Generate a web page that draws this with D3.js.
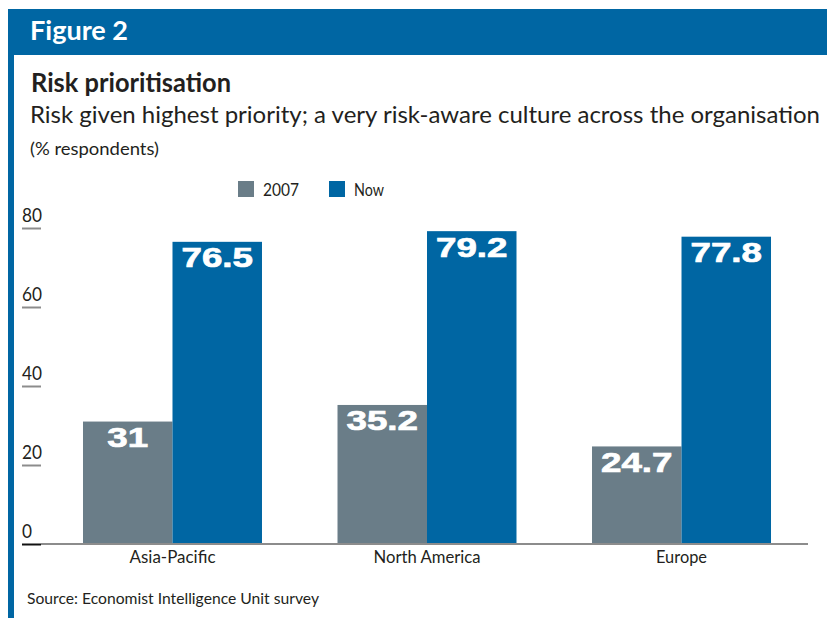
<!DOCTYPE html>
<html>
<head>
<meta charset="utf-8">
<script src="https://cdn.jsdelivr.net/npm/d3@7"></script>
<style>
  html, body { margin: 0; padding: 0; background: #fff; }
  svg { display: block; }
</style>
</head>
<body>
<svg id="chart" width="827" height="618"></svg>
<script>
// Survey results: share of respondents per region
const regions = ["Asia-Pacific", "North America", "Europe"];
const seriesNames = ["2007", "Now"];
const values2007 = [31, 35.2, 24.7];
const valuesNow = [76.5, 79.2, 77.8];
const valueLabels2007 = ["31", "35.2", "24.7"];
const valueLabelsNow = ["76.5", "79.2", "77.8"];
const yTicks = [0, 20, 40, 60, 80];

const colors = { "2007": "#6a7d88", "Now": "#0066a3" };
const brandBlue = "#0066a3";
const ink = "#231f20";
const textFont = "Lato, 'Open Sans', sans-serif";

const svg = d3.select("#chart");

// Header band and left rule
svg.append("rect").attr("x", 8).attr("y", 9).attr("width", 819).attr("height", 46).attr("fill", brandBlue);
svg.append("rect").attr("x", 8).attr("y", 55).attr("width", 6).attr("height", 563).attr("fill", brandBlue);

function fitText(sel, w) {
  return sel.attr("textLength", w).attr("lengthAdjust", "spacingAndGlyphs");
}

fitText(svg.append("text").attr("x", 30).attr("y", 40)
  .attr("font-family", textFont).attr("font-weight", 700).attr("font-size", 27)
  .attr("fill", "#fff").text("Figure 2"), 98);

fitText(svg.append("text").attr("x", 31).attr("y", 92)
  .attr("font-family", textFont).attr("font-weight", 700).attr("font-size", 26)
  .attr("fill", ink).text("Risk prioritisation"), 200);

fitText(svg.append("text").attr("x", 30).attr("y", 123)
  .attr("font-family", textFont).attr("font-size", 24)
  .attr("fill", ink).text("Risk given highest priority; a very risk-aware culture across the organisation"), 790);

fitText(svg.append("text").attr("x", 30).attr("y", 155)
  .attr("font-family", textFont).attr("font-size", 17.5)
  .attr("fill", ink).text("(% respondents)"), 129);

// Scales
const y = d3.scaleLinear().domain([0, 80]).range([544, 228]);
const x0 = d3.scaleBand().domain(regions).range([41, 813]).paddingInner(0.2967).paddingOuter(0.165);
const x1 = d3.scaleBand().domain(seriesNames).range([0, x0.bandwidth()]);

// Legend
const legendX = { "2007": 238, "Now": 329 };
const legendW = { "2007": 36, "Now": 30 };
seriesNames.forEach(s => {
  svg.append("rect").attr("x", legendX[s]).attr("y", 181).attr("width", 16).attr("height", 16).attr("fill", colors[s]);
  fitText(svg.append("text").attr("x", legendX[s] + 25).attr("y", 196)
    .attr("font-family", textFont).attr("font-size", 17.5).attr("fill", ink).text(s), legendW[s]);
});

// Y axis: short underline ticks with labels above
const yAxis = d3.axisRight(y).tickValues(yTicks).tickSize(19).tickPadding(0).tickFormat(d3.format("d"));
const gy = svg.append("g").attr("transform", "translate(22,0)").call(yAxis);
gy.select(".domain").remove();
gy.selectAll(".tick line").attr("stroke", d => d === 0 ? "#111" : "#8c8c8c").attr("stroke-width", 2);
gy.selectAll(".tick text")
  .attr("x", 0).attr("dy", -6.5).attr("text-anchor", "start")
  .attr("font-family", textFont).attr("font-size", 18.5).attr("fill", ink);
gy.selectAll(".tick text").each(function() {
  const t = d3.select(this);
  t.attr("textLength", t.text().length * 10).attr("lengthAdjust", "spacingAndGlyphs");
});

// Bars
const rows = regions.map((r, i) => ({
  region: r,
  items: [
    { key: "2007", value: values2007[i], label: valueLabels2007[i] },
    { key: "Now", value: valuesNow[i], label: valueLabelsNow[i] }
  ]
}));

const groups = svg.append("g").selectAll("g").data(rows).join("g")
  .attr("transform", d => `translate(${x0(d.region)},0)`);

groups.selectAll("rect").data(d => d.items).join("rect")
  .attr("x", d => x1(d.key))
  .attr("y", d => y(d.value))
  .attr("width", x1.bandwidth())
  .attr("height", d => y(0) - y(d.value))
  .attr("fill", d => colors[d.key]);

groups.selectAll("text.val").data(d => d.items).join("text")
  .attr("class", "val")
  .attr("transform", d => `translate(${x1(d.key) + x1.bandwidth() / 2},${y(d.value) + 25.5}) scale(1.36,1)`)
  .attr("text-anchor", "middle")
  .attr("font-family", "'Liberation Sans', Arial, sans-serif")
  .attr("font-weight", 700).attr("font-size", 27)
  .attr("fill", "#fff")
  .attr("stroke", "#fff").attr("stroke-width", 0.7)
  .text(d => d.label);

// Baseline and category axis
svg.append("line").attr("x1", 41).attr("x2", 808).attr("y1", y(0)).attr("y2", y(0))
  .attr("stroke", "#8c8c8c").attr("stroke-width", 2);

const xAxis = d3.axisBottom(x0).tickSize(0).tickPadding(0);
const gx = svg.append("g").attr("transform", `translate(0,${y(0)})`).call(xAxis);
gx.select(".domain").remove();
const catW = { "Asia-Pacific": 86, "North America": 107, "Europe": 51 };
gx.selectAll(".tick text")
  .attr("y", 19).attr("dy", 0)
  .attr("font-family", textFont).attr("font-size", 16.5).attr("fill", ink)
  .each(function(d) { d3.select(this).attr("textLength", catW[d]).attr("lengthAdjust", "spacingAndGlyphs"); });

fitText(svg.append("text").attr("x", 27).attr("y", 604)
  .attr("font-family", textFont).attr("font-size", 16)
  .attr("fill", ink).text("Source: Economist Intelligence Unit survey"), 292);
</script>
</body>
</html>
